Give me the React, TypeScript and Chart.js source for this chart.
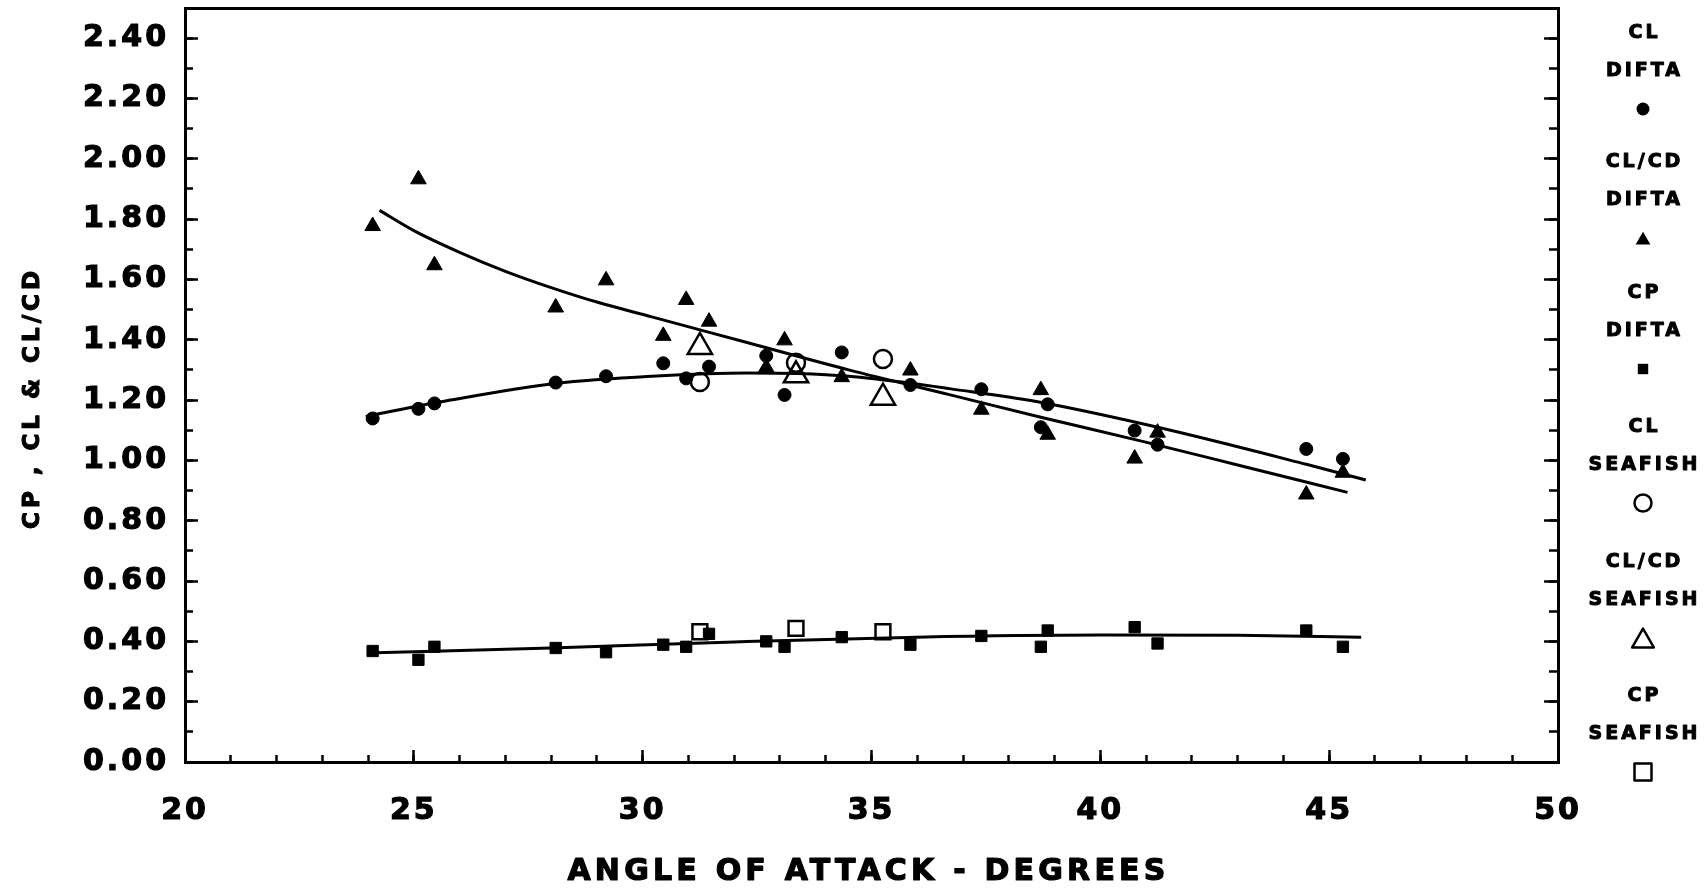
import { useEffect, useRef } from "react";
import { Chart, registerables } from "chart.js";

Chart.register(...registerables);

// ---------------- data ----------------
const diftaAngle = [24.1, 25.1, 25.45, 28.1, 29.2, 30.45, 30.95, 31.45, 32.7, 33.1, 34.35, 35.85, 37.4, 38.7, 38.85, 40.75, 41.25, 44.5, 45.3];
const diftaCL = [1.139, 1.171, 1.189, 1.258, 1.279, 1.322, 1.272, 1.311, 1.347, 1.217, 1.358, 1.25, 1.236, 1.11, 1.186, 1.099, 1.052, 1.038, 1.005];
const diftaCLCD = [1.777, 1.932, 1.647, 1.507, 1.597, 1.413, 1.532, 1.46, 1.308, 1.398, 1.276, 1.298, 1.168, 1.233, 1.085, 1.006, 1.092, 0.887, 0.959];
const diftaCP = [0.368, 0.339, 0.382, 0.378, 0.364, 0.389, 0.382, 0.425, 0.4, 0.382, 0.414, 0.389, 0.418, 0.382, 0.436, 0.447, 0.393, 0.436, 0.382];

const seafishAngle = [31.25, 33.35, 35.25];
const seafishCL = [1.26, 1.324, 1.336];
const seafishCLCD = [1.376, 1.282, 1.208];
const seafishCP = [0.432, 0.443, 0.432];

const clFitAngle = [23.95, 25.8, 28.1, 30.2, 32.3, 33.4, 34.5, 35.9, 36.7, 38.6, 41.3, 44.5, 45.8];
const clFitValue = [1.146, 1.2, 1.255, 1.279, 1.29, 1.288, 1.279, 1.255, 1.238, 1.195, 1.108, 0.987, 0.935];
const clcdFitAngle = [24.25, 25.0, 26.0, 27.0, 28.0, 29.0, 30.2, 32.3, 34.5, 36.7, 38.7, 40.9, 43.0, 45.4];
const clcdFitValue = [1.829, 1.762, 1.69, 1.627, 1.573, 1.525, 1.476, 1.39, 1.3, 1.218, 1.143, 1.064, 0.985, 0.894];
const cpFitAngle = [24.15, 28.0, 32.0, 36.0, 40.0, 43.0, 45.7];
const cpFitValue = [0.362, 0.378, 0.398, 0.414, 0.421, 0.42, 0.414];

const xMajorTicks = [20, 25, 30, 35, 40, 45, 50];
const xTickLabels = ["20", "25", "30", "35", "40", "45", "50"];
const xMinorTicks = [20, 21, 22, 23, 24, 25, 26, 27, 28, 29, 30, 31, 32, 33, 34, 35, 36, 37, 38, 39, 40, 41, 42, 43, 44, 45, 46, 47, 48, 49, 50];
const yMajorTicks = [0, 0.2, 0.4, 0.6, 0.8, 1.0, 1.2, 1.4, 1.6, 1.8, 2.0, 2.2, 2.4];
const yTickLabels = ["0.00", "0.20", "0.40", "0.60", "0.80", "1.00", "1.20", "1.40", "1.60", "1.80", "2.00", "2.20", "2.40"];
const yMinorTicks = [0, 0.1, 0.2, 0.3, 0.4, 0.5, 0.6, 0.7, 0.8, 0.9, 1.0, 1.1, 1.2, 1.3, 1.4, 1.5, 1.6, 1.7, 1.8, 1.9, 2.0, 2.1, 2.2, 2.3, 2.4, 2.5];

const xTitle = "ANGLE OF ATTACK - DEGREES";
const yTitle = "CP , CL & CL/CD";
const legendTitles = ["CL", "CL/CD", "CP", "CL", "CL/CD", "CP"];
const legendSubtitles = ["DIFTA", "DIFTA", "DIFTA", "SEAFISH", "SEAFISH", "SEAFISH"];

// ---------------- helpers ----------------
const FONT = "'DejaVu Sans', sans-serif";
const pts = (xs: number[], ys: number[]) => xs.map((x, i) => ({ x, y: ys[i] }));
const useTicks = (values: number[]) => (scale: any) => {
  scale.ticks = values.map((v) => ({ value: v }));
};
const fixSize = (w: number | null, h: number | null) => (s: any) => {
  if (w !== null) s.width = w;
  if (h !== null) s.height = h;
  s.paddingTop = 0;
  s.paddingBottom = 0;
  s.paddingLeft = 0;
  s.paddingRight = 0;
};

const markerSet = (style: string, filled: boolean, radius: number) => ({
  showLine: false,
  pointStyle: style,
  pointRadius: radius,
  pointHoverRadius: radius,
  pointBackgroundColor: filled ? "#000" : "rgba(0,0,0,0)",
  pointBorderColor: "#000",
  pointBorderWidth: filled ? 1 : 2.5,
  backgroundColor: filled ? "#000" : "rgba(0,0,0,0)",
  borderColor: "#000",
  order: 0,
  xAxisID: "x",
  yAxisID: "y",
});

const fitSet = {
  showLine: true,
  pointRadius: 0,
  pointHoverRadius: 0,
  borderColor: "#000",
  borderWidth: 3,
  fill: false,
  cubicInterpolationMode: "monotone",
  order: 1,
  xAxisID: "x",
  yAxisID: "y",
};

const spacingPlugin = {
  id: "letterSpacing",
  beforeDraw(chart: any) {
    chart.ctx.letterSpacing = "3px";
  },
  afterDraw(chart: any) {
    chart.ctx.letterSpacing = "0px";
  },
};

const boldText = (ctx: any, text: string, x: number, y: number, sw: number) => {
  ctx.lineWidth = sw;
  ctx.lineJoin = "round";
  ctx.strokeText(text, x, y);
  ctx.fillText(text, x, y);
};

const annotationPlugin = {
  id: "sideLegend",
  afterDraw(chart: any) {
    const ctx = chart.ctx;
    const area = chart.chartArea;
    ctx.save();
    ctx.fillStyle = "#000";
    ctx.strokeStyle = "#000";
    ctx.textAlign = "center";
    ctx.textBaseline = "middle";

    // axis titles
    ctx.letterSpacing = "4.2px";
    ctx.font = `bold 30px ${FONT}`;
    boldText(ctx, xTitle, (area.left + area.right) / 2 - 3, 872, 1.2);
    ctx.save();
    ctx.translate(33, (area.top + area.bottom) / 2 + 15);
    ctx.rotate(-Math.PI / 2);
    ctx.letterSpacing = "4px";
    ctx.font = `bold 23px ${FONT}`;
    boldText(ctx, yTitle, 2, 0, 1.1);
    ctx.restore();

    // legend
    const cx = 1643;
    const tops = [33, 162, 293, 427, 562, 696];
    const sizes = [6.5, 8.5, 5.2, 8.5, 12.5, 8.5];
    ctx.letterSpacing = "3px";
    ctx.font = `bold 19px ${FONT}`;
    legendTitles.forEach((t, i) => {
      const y0 = tops[i];
      boldText(ctx, t, cx + 1.5, y0, 1);
      boldText(ctx, legendSubtitles[i], cx + 1.5, y0 + 38, 1);
      const ds = chart.data.datasets[i];
      const filled = ds.pointBackgroundColor === "#000";
      const my = y0 + 76;
      const r = sizes[i];
      ctx.beginPath();
      if (ds.pointStyle === "circle") {
        ctx.arc(cx, my, r, 0, Math.PI * 2);
      } else if (ds.pointStyle === "triangle") {
        const h = 1.5 * r;
        const hw = 0.866 * r;
        ctx.moveTo(cx, my - h / 2);
        ctx.lineTo(cx + hw, my + h / 2);
        ctx.lineTo(cx - hw, my + h / 2);
        ctx.closePath();
      } else {
        ctx.rect(cx - r, my - r, 2 * r, 2 * r);
      }
      if (filled) {
        ctx.fill();
      } else {
        ctx.lineWidth = 2.5;
        ctx.stroke();
      }
    });
    ctx.restore();
  },
};

export default function App() {
  const ref = useRef<HTMLCanvasElement | null>(null);

  useEffect(() => {
    if (!ref.current) return;
    const tickFont = { family: FONT, size: 30, weight: "bold" as const };
    const chart = new Chart(ref.current, {
      type: "scatter",
      data: {
        datasets: [
          { label: "CL DIFTA", data: pts(diftaAngle, diftaCL), ...markerSet("circle", true, 6.5) },
          { label: "CL/CD DIFTA", data: pts(diftaAngle, diftaCLCD), ...markerSet("triangle", true, 9) },
          { label: "CP DIFTA", data: pts(diftaAngle, diftaCP), ...markerSet("rect", true, 8) },
          { label: "CL SEAFISH", data: pts(seafishAngle, seafishCL), ...markerSet("circle", false, 9) },
          { label: "CL/CD SEAFISH", data: pts(seafishAngle, seafishCLCD), ...markerSet("triangle", false, 14) },
          { label: "CP SEAFISH", data: pts(seafishAngle, seafishCP), ...markerSet("rect", false, 10.5) },
          { label: "CL fit", data: pts(clFitAngle, clFitValue), ...fitSet },
          { label: "CL/CD fit", data: pts(clcdFitAngle, clcdFitValue), ...fitSet },
          { label: "CP fit", data: pts(cpFitAngle, cpFitValue), ...fitSet },
        ] as any,
      },
      options: {
        animation: false,
        responsive: false,
        devicePixelRatio: 1,
        layout: { padding: 0, autoPadding: false },
        plugins: { legend: { display: false }, tooltip: { enabled: false }, title: { display: false } },
        scales: {
          x: {
            type: "linear",
            position: "bottom",
            weight: 1,
            min: 20,
            max: 50,
            afterBuildTicks: useTicks(xMajorTicks),
            afterFit: fixSize(null, 127),
            ticks: {
              autoSkip: false,
              maxRotation: 0,
              minRotation: 0,
              padding: 43,
              color: "#000",
              textStrokeColor: "#000",
              textStrokeWidth: 1.2,
              font: tickFont,
              callback: (_v: any, i: number) => xTickLabels[i],
            },
            grid: { display: true, drawOnChartArea: false, drawTicks: true, tickLength: -12, tickWidth: 2.5, tickColor: "#000", color: "#000" },
            border: { display: true, width: 3, color: "#000" },
          },
          xMinor: {
            type: "linear",
            position: "bottom",
            weight: 0,
            min: 20,
            max: 50,
            afterBuildTicks: useTicks(xMinorTicks),
            afterFit: fixSize(null, 0),
            ticks: { display: false, autoSkip: false },
            grid: { display: true, drawOnChartArea: false, drawTicks: true, tickLength: -7, tickWidth: 2.5, tickColor: "#000" },
            border: { display: false },
          },
          xTop: {
            type: "linear",
            position: "top",
            min: 20,
            max: 50,
            afterFit: fixSize(null, 8),
            ticks: { display: false },
            grid: { display: false },
            border: { display: true, width: 3, color: "#000" },
          },
          y: {
            type: "linear",
            position: "left",
            weight: 1,
            min: 0,
            max: 2.5,
            afterBuildTicks: useTicks(yMajorTicks),
            afterFit: fixSize(185, null),
            ticks: {
              autoSkip: false,
              padding: 29,
              color: "#000",
              textStrokeColor: "#000",
              textStrokeWidth: 1.2,
              font: tickFont,
              callback: (_v: any, i: number) => yTickLabels[i],
            },
            grid: { display: true, drawOnChartArea: false, drawTicks: true, tickLength: -13, tickWidth: 2.5, tickColor: "#000", color: "#000" },
            border: { display: true, width: 3, color: "#000" },
          },
          yMinor: {
            type: "linear",
            position: "left",
            weight: 0,
            min: 0,
            max: 2.5,
            afterBuildTicks: useTicks(yMinorTicks),
            afterFit: fixSize(0, null),
            ticks: { display: false, autoSkip: false },
            grid: { display: true, drawOnChartArea: false, drawTicks: true, tickLength: -8, tickWidth: 2.5, tickColor: "#000" },
            border: { display: false },
          },
          yRight: {
            type: "linear",
            position: "right",
            weight: 1,
            min: 0,
            max: 2.5,
            afterBuildTicks: useTicks(yMajorTicks),
            afterFit: fixSize(147, null),
            ticks: { display: false, autoSkip: false },
            grid: { display: true, drawOnChartArea: false, drawTicks: true, tickLength: -14, tickWidth: 2.5, tickColor: "#000" },
            border: { display: true, width: 3, color: "#000" },
          },
          yRightMinor: {
            type: "linear",
            position: "right",
            weight: 0,
            min: 0,
            max: 2.5,
            afterBuildTicks: useTicks(yMinorTicks),
            afterFit: fixSize(0, null),
            ticks: { display: false, autoSkip: false },
            grid: { display: true, drawOnChartArea: false, drawTicks: true, tickLength: -9, tickWidth: 2.5, tickColor: "#000" },
            border: { display: false },
          },
        } as any,
      },
      plugins: [spacingPlugin, annotationPlugin],
    });
    return () => chart.destroy();
  }, []);

  return (
    <div style={{ position: "fixed", left: 0, top: 0, width: 1705, height: 889, background: "#fff" }}>
      <canvas ref={ref} width={1705} height={889} style={{ display: "block", width: 1705, height: 889 }} />
    </div>
  );
}
